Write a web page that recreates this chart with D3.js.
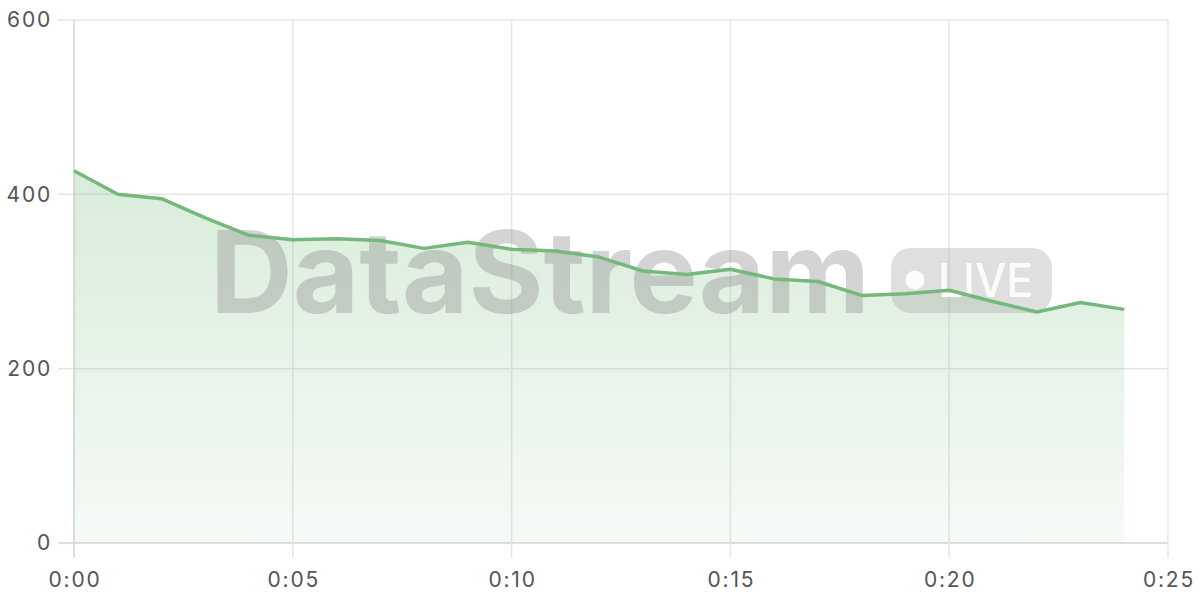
<!DOCTYPE html>
<html>
<head>
<meta charset="utf-8">
<script src="https://cdn.jsdelivr.net/npm/d3@7"></script>
<style>
  html, body { margin: 0; padding: 0; background: #fff; }
  svg { display: block; font-family: Inter, "Noto Sans", sans-serif; }
</style>
</head>
<body>
<svg id="chart" width="1200" height="600"></svg>
<script>
const minutes = [0,1,2,3,4,5,6,7,8,9,10,11,12,13,14,15,16,17,18,19,20,21,22,23,24];
const values  = [427,400,395,373,353,348,349,347,338,345,337,335,328,312,308,314,303,300,284,286,290,277,265,276,268];
const xTicks = [0,5,10,15,20,25];
const xTickLabels = ["0:00","0:05","0:10","0:15","0:20","0:25"];
const yTicks = [0,200,400,600];

const svg = d3.select("#chart");
const x = d3.scaleLinear().domain([0,25]).range([74,1168]);
const y = d3.scaleLinear().domain([0,600]).range([543,20]);

const data = minutes.map((m,i)=>({m, v: values[i]}));

// gradient
const defs = svg.append("defs");
const grad = defs.append("linearGradient").attr("id","areaGrad")
  .attr("gradientUnits","userSpaceOnUse")
  .attr("x1",0).attr("x2",0).attr("y1",y(430)).attr("y2",y(0));
grad.append("stop").attr("offset","0%").attr("stop-color","#74b97b").attr("stop-opacity",0.28);
grad.append("stop").attr("offset","100%").attr("stop-color","#74b97b").attr("stop-opacity",0.07);

// horizontal grid
svg.append("g").selectAll("line").data(yTicks).join("line")
  .attr("x1",58).attr("x2",1168)
  .attr("y1",d=>y(d)).attr("y2",d=>y(d))
  .attr("stroke",d=> d===0 ? "#d4d4d4" : "#e6e6e6").attr("stroke-width",1.5);

// vertical grid
svg.append("g").selectAll("line").data(xTicks).join("line")
  .attr("x1",d=>x(d)).attr("x2",d=>x(d))
  .attr("y1",y(600)).attr("y2",558)
  .attr("stroke",d=> d===0 ? "#d4d4d4" : "#e6e6e6").attr("stroke-width",1.5);

// area
const area = d3.area().x(d=>x(d.m)).y0(y(0)).y1(d=>y(d.v));
svg.append("path").datum(data).attr("d",area).attr("fill","url(#areaGrad)");

// watermark
const wm = svg.append("g").attr("pointer-events","none");
wm.append("text").text("DataStream")
  .attr("x",210).attr("y",313)
  .attr("font-size",114).attr("font-weight",700)
  .attr("textLength",660).attr("lengthAdjust","spacingAndGlyphs")
  .attr("fill","#8a8a8a").attr("fill-opacity",0.37);
wm.append("rect").attr("x",891).attr("y",248).attr("width",161).attr("height",65)
  .attr("rx",20).attr("fill","#9a9a9a").attr("fill-opacity",0.32);
wm.append("circle").attr("cx",915).attr("cy",280).attr("r",9.5)
  .attr("fill","#fff").attr("fill-opacity",0.9);
wm.append("text").text("LIVE")
  .attr("x",938).attr("y",297)
  .attr("font-size",46).attr("font-weight",500)
  .attr("textLength",95).attr("lengthAdjust","spacingAndGlyphs")
  .attr("fill","#fff").attr("fill-opacity",0.9);

// line
const line = d3.line().x(d=>x(d.m)).y(d=>y(d.v));
svg.append("path").datum(data).attr("d",line)
  .attr("fill","none").attr("stroke","#74b97b").attr("stroke-width",3.5)
  .attr("stroke-linejoin","round");

// y labels
svg.append("g").selectAll("text").data(yTicks).join("text")
  .attr("x",52).attr("y",d=>y(d)).attr("dy","0.35em")
  .attr("text-anchor","end").attr("font-size",21).attr("letter-spacing",1.8).attr("fill","#555")
  .text(d=>d);

// x labels
svg.append("g").selectAll("text").data(xTicks).join("text")
  .attr("x",d=>x(d)+1).attr("y",580).attr("dy","0.35em")
  .attr("text-anchor","middle").attr("font-size",21).attr("letter-spacing",1.8).attr("fill","#555")
  .text((d,i)=>xTickLabels[i]);
</script>
</body>
</html>
